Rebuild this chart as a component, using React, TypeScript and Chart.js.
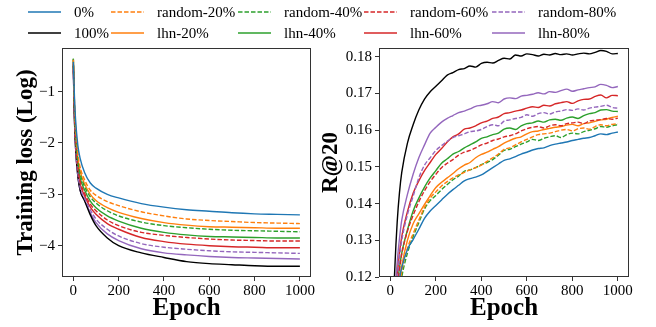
import React, { useEffect, useRef } from "react";
import { Chart, registerables } from "chart.js";
Chart.register(...registerables);

const FONT = "'Liberation Serif', 'Times New Roman', serif";

// ---- series meta ----
const seriesNames = ["0%", "random-20%", "random-40%", "random-60%", "random-80%", "100%", "lhn-20%", "lhn-40%", "lhn-60%", "lhn-80%"];
const seriesColors = ["#1f77b4", "#ff7f0e", "#2ca02c", "#d62728", "#9467bd", "#000000", "#ff7f0e", "#2ca02c", "#d62728", "#9467bd"];
const seriesDashed = [false, true, true, true, true, false, false, false, false, false];

// ---- left panel: training loss (log) ----
const epochsLoss = [0, 5, 10, 20, 30, 50, 75, 100, 150, 200, 300, 400, 500, 600, 700, 800, 900, 1000];
const lossP0 = [-0.42, -1.1, -1.55, -2.05, -2.3, -2.58, -2.78, -2.88, -3.0, -3.07, -3.18, -3.25, -3.3, -3.33, -3.36, -3.38, -3.39, -3.4];
const lossR20 = [-0.38, -1.2, -1.7, -2.2, -2.47, -2.72, -2.92, -3.02, -3.14, -3.22, -3.34, -3.42, -3.48, -3.51, -3.53, -3.55, -3.56, -3.57];
const lossR40 = [-0.36, -1.3, -1.82, -2.35, -2.6, -2.85, -3.05, -3.17, -3.32, -3.42, -3.54, -3.61, -3.65, -3.68, -3.7, -3.71, -3.72, -3.73];
const lossR60 = [-0.45, -1.4, -1.95, -2.48, -2.74, -2.98, -3.19, -3.32, -3.5, -3.61, -3.74, -3.8, -3.84, -3.87, -3.89, -3.9, -3.91, -3.91];
const lossR80 = [-0.55, -1.5, -2.05, -2.6, -2.87, -3.08, -3.3, -3.48, -3.68, -3.81, -3.96, -4.03, -4.07, -4.1, -4.12, -4.13, -4.14, -4.15];
const lossP100 = [-0.5, -1.55, -2.1, -2.65, -2.92, -3.13, -3.4, -3.61, -3.85, -4.0, -4.14, -4.23, -4.31, -4.35, -4.37, -4.39, -4.4, -4.4];
const lossL20 = [-0.38, -1.25, -1.78, -2.3, -2.55, -2.8, -3.0, -3.12, -3.26, -3.35, -3.47, -3.55, -3.6, -3.63, -3.64, -3.65, -3.66, -3.66];
const lossL40 = [-0.36, -1.35, -1.9, -2.42, -2.68, -2.92, -3.13, -3.26, -3.42, -3.52, -3.66, -3.74, -3.79, -3.82, -3.83, -3.84, -3.85, -3.85];
const lossL60 = [-0.45, -1.45, -2.0, -2.53, -2.8, -3.03, -3.25, -3.39, -3.57, -3.68, -3.84, -3.92, -3.97, -4.0, -4.02, -4.03, -4.04, -4.04];
const lossL80 = [-0.6, -1.55, -2.1, -2.65, -2.92, -3.12, -3.36, -3.55, -3.77, -3.9, -4.06, -4.14, -4.18, -4.21, -4.23, -4.24, -4.25, -4.26];
const lossSeries = [lossP0, lossR20, lossR40, lossR60, lossR80, lossP100, lossL20, lossL40, lossL60, lossL80];
const lossYTicks = [-1, -2, -3, -4];

// ---- right panel: R@20 ----
const epochsRecall = [0, 10, 20, 30, 40, 50, 75, 100, 125, 150, 175, 200, 225, 250, 275, 300, 325, 350, 375, 400, 425, 450, 475, 500, 525, 550, 575, 600, 625, 650, 675, 700, 725, 750, 775, 800, 825, 850, 875, 900, 925, 950, 975, 1000];
const recP0 = [0.025, 0.06, 0.088, 0.108, 0.119, 0.1225, 0.1275, 0.1302, 0.133, 0.136, 0.138, 0.1395, 0.141, 0.1425, 0.1438, 0.145, 0.1462, 0.1468, 0.1472, 0.1478, 0.1488, 0.1498, 0.1508, 0.1518, 0.1522, 0.1528, 0.1535, 0.154, 0.1546, 0.155, 0.1552, 0.1558, 0.1562, 0.1565, 0.1568, 0.1572, 0.1575, 0.1578, 0.158, 0.1585, 0.159, 0.1588, 0.1592, 0.1595];
const recR20 = [0.03, 0.07, 0.097, 0.11, 0.117, 0.1215, 0.1278, 0.1318, 0.1355, 0.139, 0.1415, 0.1432, 0.1448, 0.146, 0.147, 0.1478, 0.1485, 0.1492, 0.1498, 0.1505, 0.1515, 0.1525, 0.1535, 0.1548, 0.1552, 0.156, 0.1568, 0.1575, 0.1582, 0.1588, 0.159, 0.1592, 0.1596, 0.16, 0.1602, 0.1598, 0.1604, 0.1606, 0.1603, 0.161, 0.1615, 0.1612, 0.1616, 0.1617];
const recR40 = [0.03, 0.07, 0.095, 0.108, 0.116, 0.12, 0.1265, 0.131, 0.1348, 0.1385, 0.1408, 0.1422, 0.1438, 0.1452, 0.1465, 0.1475, 0.1488, 0.1492, 0.1498, 0.1506, 0.1512, 0.152, 0.1532, 0.1545, 0.1548, 0.1555, 0.1562, 0.1568, 0.1575, 0.1572, 0.1578, 0.1582, 0.1585, 0.158, 0.1588, 0.1592, 0.159, 0.1596, 0.16, 0.1604, 0.161, 0.1608, 0.1612, 0.1615];
const recR60 = [0.035, 0.08, 0.106, 0.117, 0.122, 0.1262, 0.1325, 0.1368, 0.1405, 0.1435, 0.146, 0.148, 0.1498, 0.151, 0.152, 0.1532, 0.154, 0.1545, 0.1552, 0.156, 0.1565, 0.1572, 0.1576, 0.1582, 0.1585, 0.159, 0.1598, 0.1604, 0.1608, 0.161, 0.1606, 0.1612, 0.1615, 0.1612, 0.1618, 0.162, 0.1622, 0.1618, 0.1625, 0.1627, 0.1629, 0.1632, 0.163, 0.1633];
const recR80 = [0.04, 0.085, 0.11, 0.119, 0.1255, 0.13, 0.137, 0.142, 0.147, 0.1505, 0.1525, 0.1545, 0.1558, 0.157, 0.158, 0.1585, 0.159, 0.1596, 0.1598, 0.1602, 0.161, 0.1615, 0.1612, 0.1625, 0.1628, 0.1632, 0.1635, 0.1642, 0.1638, 0.1645, 0.1648, 0.1644, 0.165, 0.1652, 0.1656, 0.1654, 0.1658, 0.1655, 0.166, 0.1663, 0.1665, 0.1668, 0.1662, 0.166];
const recP100 = [0.05, 0.105, 0.123, 0.135, 0.143, 0.1485, 0.1565, 0.1615, 0.1655, 0.1685, 0.1705, 0.172, 0.1735, 0.175, 0.1757, 0.1765, 0.1768, 0.1775, 0.1772, 0.1782, 0.1785, 0.1783, 0.179, 0.1796, 0.1794, 0.1805, 0.1802, 0.1808, 0.1806, 0.1802, 0.1807, 0.1805, 0.1809, 0.1806, 0.1808, 0.1805, 0.1808, 0.181, 0.1808, 0.1812, 0.1817, 0.1815, 0.1808, 0.1809];
const recL20 = [0.03, 0.075, 0.1, 0.113, 0.119, 0.123, 0.13, 0.1345, 0.1372, 0.1398, 0.1422, 0.1444, 0.1458, 0.147, 0.1482, 0.1495, 0.1505, 0.1512, 0.1525, 0.1534, 0.154, 0.1548, 0.1555, 0.1565, 0.1572, 0.1578, 0.1582, 0.159, 0.1596, 0.1598, 0.1602, 0.1605, 0.1608, 0.161, 0.1614, 0.1616, 0.1612, 0.1618, 0.162, 0.1624, 0.1628, 0.163, 0.1635, 0.1638];
const recL40 = [0.035, 0.08, 0.105, 0.117, 0.1225, 0.1265, 0.1328, 0.138, 0.1415, 0.1445, 0.147, 0.149, 0.151, 0.1522, 0.1535, 0.1542, 0.1552, 0.156, 0.1568, 0.1578, 0.1582, 0.1588, 0.1592, 0.1603, 0.1606, 0.1602, 0.1612, 0.1618, 0.162, 0.1625, 0.1622, 0.1628, 0.163, 0.1627, 0.1633, 0.1636, 0.1632, 0.164, 0.1645, 0.1648, 0.1655, 0.1656, 0.1652, 0.1651];
const recL60 = [0.04, 0.085, 0.11, 0.12, 0.1265, 0.131, 0.1378, 0.1428, 0.1462, 0.149, 0.1512, 0.1534, 0.155, 0.1568, 0.1582, 0.159, 0.1603, 0.1606, 0.1612, 0.162, 0.1625, 0.1632, 0.1636, 0.1645, 0.1648, 0.1652, 0.1655, 0.166, 0.1664, 0.1662, 0.1668, 0.1666, 0.1672, 0.1675, 0.1678, 0.1673, 0.168, 0.1684, 0.1685, 0.1692, 0.1696, 0.1688, 0.1695, 0.1694];
const recL80 = [0.04, 0.09, 0.114, 0.124, 0.1305, 0.1355, 0.1425, 0.148, 0.1525, 0.156, 0.1592, 0.1608, 0.1622, 0.1632, 0.164, 0.1648, 0.1652, 0.1658, 0.1665, 0.1668, 0.1672, 0.1678, 0.1675, 0.1685, 0.1688, 0.1686, 0.1693, 0.1695, 0.1698, 0.1702, 0.1699, 0.1705, 0.1703, 0.1708, 0.1712, 0.1706, 0.171, 0.1713, 0.1716, 0.1718, 0.1725, 0.1722, 0.1716, 0.1719];
const recallSeries = [recP0, recR20, recR40, recR60, recR80, recP100, recL20, recL40, recL60, recL80];
const recallYTicks = [0.12, 0.13, 0.14, 0.15, 0.16, 0.17, 0.18];

const epochTicks = [0, 200, 400, 600, 800, 1000];

const W = 656;
const H = 327;
const AXIS = "#333333";

const framePlugin = {
  id: "frame",
  afterDatasetsDraw(chart: any) {
    const { ctx, chartArea: a } = chart;
    ctx.save();
    ctx.strokeStyle = AXIS;
    ctx.lineWidth = 1;
    const l = Math.round(a.left) + 0.5;
    const t = Math.round(a.top) + 0.5;
    const r = Math.round(a.right) - 0.5;
    const b = Math.round(a.bottom) - 0.5;
    ctx.strokeRect(l, t, r - l, b - t);
    ctx.restore();
  },
};

function makeDatasets(epochs: number[], series: number[][]) {
  return series.map((vals, i) => ({
    label: seriesNames[i],
    data: epochs.map((x, j) => ({ x, y: vals[j] })),
    borderColor: seriesColors[i],
    backgroundColor: seriesColors[i],
    borderWidth: 1.4,
    borderDash: seriesDashed[i] ? [4.5, 2] : [],
    pointRadius: 0,
    fill: false,
    cubicInterpolationMode: "monotone" as const,
    clip: { left: 0, top: 0, right: 0, bottom: 0 },
  }));
}

function makeOptions(cfg: {
  padL: number;
  padR: number;
  yWidth: number;
  yMin: number;
  yMax: number;
  yTicks: number[];
  yTitle: string;
  yTitlePad: number;
  yFmt: (v: number) => string;
}) {
  const tickFont = { family: FONT, size: 15 };
  return {
    responsive: false,
    animation: false as const,
    devicePixelRatio: 1,
    layout: { padding: { left: cfg.padL, right: cfg.padR, top: 48, bottom: 0 } },
    plugins: { legend: { display: false }, tooltip: { enabled: false } },
    scales: {
      x: {
        type: "linear" as const,
        min: -50,
        max: 1049,
        afterBuildTicks: (s: any) => {
          s.ticks = epochTicks.map((v) => ({ value: v }));
        },
        afterFit: (s: any) => {
          s.height = 50;
        },
        ticks: {
          autoSkip: false,
          maxRotation: 0,
          padding: 1,
          color: "#000",
          font: tickFont,
          callback: (v: any) => String(v),
        },
        grid: { display: true, drawOnChartArea: false, drawTicks: true, tickLength: 4, color: AXIS },
        border: { display: false },
        title: {
          display: true,
          text: "Epoch",
          color: "#000",
          font: { family: FONT, size: 25, weight: "bold" as const },
          padding: { top: 0, bottom: 3 },
        },
      },
      y: {
        type: "linear" as const,
        min: cfg.yMin,
        max: cfg.yMax,
        afterBuildTicks: (s: any) => {
          s.ticks = cfg.yTicks.map((v) => ({ value: v }));
        },
        afterFit: (s: any) => {
          s.width = cfg.yWidth;
        },
        ticks: {
          autoSkip: false,
          padding: 3,
          color: "#000",
          font: tickFont,
          callback: (v: any) => cfg.yFmt(Number(v)),
        },
        grid: { display: true, drawOnChartArea: false, drawTicks: true, tickLength: 4, color: AXIS },
        border: { display: false },
        title: {
          display: true,
          text: cfg.yTitle,
          color: "#000",
          font: { family: FONT, size: 23, weight: "bold" as const },
          padding: { top: cfg.yTitlePad, bottom: 0 },
        },
      },
    },
  };
}

function LegendLine({ color, dashed }: { color: string; dashed: boolean }) {
  return (
    <svg width={33} height={4} style={{ display: "block" }}>
      <line x1={0} y1={2} x2={33} y2={2} stroke={color} strokeWidth={1.6} strokeDasharray={dashed ? "4.5 2" : undefined} />
    </svg>
  );
}

const legendLineX = [28, 111, 238, 364, 492];
const legendRowY = [12, 33];

export default function App() {
  const leftRef = useRef<HTMLCanvasElement>(null);
  const rightRef = useRef<HTMLCanvasElement>(null);

  useEffect(() => {
    const c1 = new Chart(leftRef.current as HTMLCanvasElement, {
      type: "line",
      data: { datasets: makeDatasets(epochsLoss, lossSeries) as any },
      options: makeOptions({
        padL: 0,
        padR: W - 311,
        yWidth: 62,
        yMin: -4.61,
        yMax: -0.15,
        yTicks: lossYTicks,
        yTitle: "Training loss (Log)",
        yTitlePad: 12,
        yFmt: (v) => (v < 0 ? "\u2212" + Math.abs(v) : String(v)),
      }) as any,
      plugins: [framePlugin],
    });
    const c2 = new Chart(rightRef.current as HTMLCanvasElement, {
      type: "line",
      data: { datasets: makeDatasets(epochsRecall, recallSeries) as any },
      options: makeOptions({
        padL: 317,
        padR: W - 629,
        yWidth: 62,
        yMin: 0.12,
        yMax: 0.1824,
        yTicks: recallYTicks,
        yTitle: "R@20",
        yTitlePad: 0,
        yFmt: (v) => v.toFixed(2),
      }) as any,
      plugins: [framePlugin],
    });
    return () => {
      c1.destroy();
      c2.destroy();
    };
  }, []);

  const legendItems = seriesNames.map((name, i) => {
    const row = i < 5 ? 0 : 1;
    const col = i % 5;
    const x = legendLineX[col];
    const y = legendRowY[row];
    return (
      <div key={name} style={{ position: "absolute", left: x, top: y - 9, height: 18, display: "flex", alignItems: "center" }}>
        <LegendLine color={seriesColors[i]} dashed={seriesDashed[i]} />
        <span style={{ marginLeft: 13, fontFamily: FONT, fontSize: 15, lineHeight: "18px", color: "#000", whiteSpace: "nowrap" }}>{name}</span>
      </div>
    );
  });

  return (
    <div style={{ position: "absolute", left: 0, top: 0, width: W, height: H, background: "#fff", overflow: "hidden" }}>
      <canvas ref={leftRef} width={W} height={H} style={{ position: "absolute", left: 0, top: 0, width: W, height: H }} />
      <canvas ref={rightRef} width={W} height={H} style={{ position: "absolute", left: 0, top: 0, width: W, height: H }} />
      {legendItems}
    </div>
  );
}
